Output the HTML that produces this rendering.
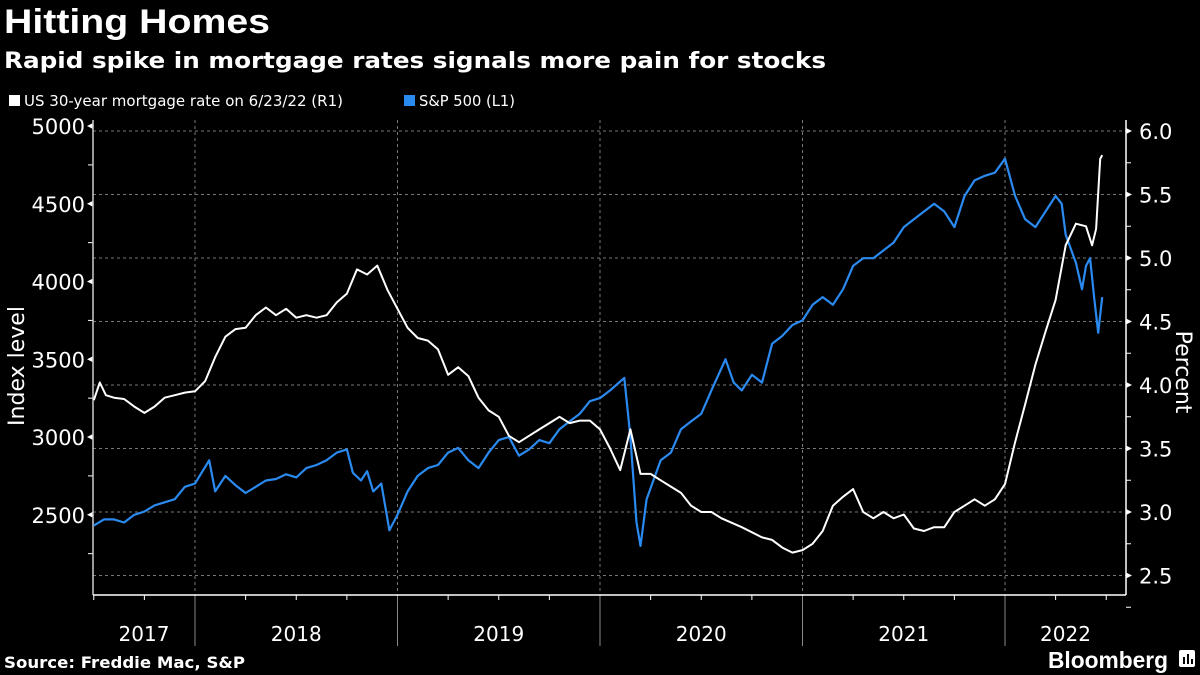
<!DOCTYPE html>
<html><head><meta charset="utf-8">
<style>
body{margin:0;background:#000;}
svg{display:block;font-family:"DejaVu Sans","Liberation Sans",sans-serif;}
</style></head>
<body>
<svg id="chart" width="1200" height="675" viewBox="0 0 1200 675">
<rect x="0" y="0" width="1200" height="675" fill="#000"/>
<text x="4" y="33" fill="#fff" font-size="34" font-weight="bold" font-family="Liberation Sans, sans-serif" textLength="266" lengthAdjust="spacingAndGlyphs">Hitting Homes</text>
<text x="4" y="68" fill="#fff" font-size="22" font-weight="bold" font-family="DejaVu Sans, sans-serif" textLength="822" lengthAdjust="spacingAndGlyphs">Rapid spike in mortgage rates signals more pain for stocks</text>
<rect x="9" y="95" width="11" height="11" fill="#fff"/>
<text x="24" y="106" fill="#fff" font-size="15" textLength="319" lengthAdjust="spacingAndGlyphs">US 30-year mortgage rate on 6/23/22 (R1)</text>
<rect x="404" y="95" width="11" height="11" fill="#2a8af0"/>
<text x="419" y="106" fill="#fff" font-size="15" textLength="96" lengthAdjust="spacingAndGlyphs">S&amp;P 500 (L1)</text>
<g id="grid"></g>
<g id="axes"></g>
<g id="series"></g>
<text transform="translate(24,366) rotate(-90)" text-anchor="middle" fill="#fff" font-size="22">Index level</text>
<text transform="translate(1176,372) rotate(90)" text-anchor="middle" fill="#fff" font-size="22">Percent</text>
<text x="4" y="668" fill="#fff" font-size="16" font-weight="bold" textLength="241" lengthAdjust="spacingAndGlyphs">Source: Freddie Mac, S&amp;P</text>
<text x="1048" y="668" fill="#fff" font-size="23" font-weight="bold" font-family="Liberation Sans, sans-serif" textLength="120" lengthAdjust="spacingAndGlyphs">Bloomberg</text>
<g><rect x="1179" y="650" width="16" height="17" rx="2" fill="#fff"/><rect x="1183" y="657" width="2" height="7" fill="#000"/><rect x="1187" y="654" width="2" height="10" fill="#000"/><rect x="1191" y="659" width="2" height="5" fill="#000"/></g>
</svg>
<script>
const leftTicks=[2500,3000,3500,4000,4500,5000];
const rightTicks=[2.5,3.0,3.5,4.0,4.5,5.0,5.5,6.0];
const years=[2017,2018,2019,2020,2021,2022];
const mortDates=[2017.5,2017.53,2017.56,2017.6,2017.65,2017.7,2017.75,2017.8,2017.85,2017.9,2017.95,2018.0,2018.05,2018.1,2018.15,2018.2,2018.25,2018.3,2018.35,2018.4,2018.45,2018.5,2018.55,2018.6,2018.65,2018.7,2018.75,2018.8,2018.85,2018.9,2018.95,2019.0,2019.05,2019.1,2019.15,2019.2,2019.25,2019.3,2019.35,2019.4,2019.45,2019.5,2019.55,2019.6,2019.65,2019.7,2019.75,2019.8,2019.85,2019.9,2019.95,2020.0,2020.05,2020.1,2020.15,2020.2,2020.25,2020.3,2020.35,2020.4,2020.45,2020.5,2020.55,2020.6,2020.7,2020.8,2020.85,2020.9,2020.95,2021.0,2021.05,2021.1,2021.15,2021.2,2021.25,2021.3,2021.35,2021.4,2021.45,2021.5,2021.55,2021.6,2021.65,2021.7,2021.75,2021.8,2021.85,2021.9,2021.95,2022.0,2022.05,2022.1,2022.15,2022.2,2022.25,2022.3,2022.35,2022.4,2022.43,2022.45,2022.47,2022.48];
const mortValues=[3.88,4.02,3.92,3.9,3.89,3.83,3.78,3.83,3.9,3.92,3.94,3.95,4.03,4.22,4.38,4.44,4.45,4.55,4.61,4.55,4.6,4.53,4.55,4.53,4.55,4.65,4.72,4.91,4.87,4.94,4.75,4.6,4.45,4.37,4.35,4.28,4.08,4.14,4.07,3.9,3.8,3.75,3.6,3.55,3.6,3.65,3.7,3.75,3.7,3.72,3.72,3.65,3.5,3.33,3.65,3.3,3.3,3.25,3.2,3.15,3.05,3.0,3.0,2.95,2.88,2.8,2.78,2.72,2.68,2.7,2.75,2.85,3.05,3.12,3.18,3.0,2.95,3.0,2.95,2.98,2.87,2.85,2.88,2.88,3.0,3.05,3.1,3.05,3.1,3.22,3.55,3.85,4.16,4.42,4.67,5.1,5.27,5.25,5.1,5.23,5.78,5.81];
const spxDates=[2017.5,2017.55,2017.6,2017.65,2017.7,2017.75,2017.8,2017.85,2017.9,2017.95,2018.0,2018.07,2018.1,2018.15,2018.2,2018.25,2018.3,2018.35,2018.4,2018.45,2018.5,2018.55,2018.6,2018.65,2018.7,2018.75,2018.78,2018.82,2018.85,2018.88,2018.92,2018.96,2019.0,2019.05,2019.1,2019.15,2019.2,2019.25,2019.3,2019.35,2019.4,2019.45,2019.5,2019.55,2019.6,2019.65,2019.7,2019.75,2019.8,2019.85,2019.9,2019.95,2020.0,2020.05,2020.12,2020.15,2020.18,2020.2,2020.23,2020.3,2020.35,2020.4,2020.45,2020.5,2020.55,2020.62,2020.66,2020.7,2020.75,2020.8,2020.85,2020.9,2020.95,2021.0,2021.05,2021.1,2021.15,2021.2,2021.25,2021.3,2021.35,2021.4,2021.45,2021.5,2021.55,2021.6,2021.65,2021.7,2021.75,2021.8,2021.85,2021.9,2021.95,2022.0,2022.05,2022.1,2022.15,2022.2,2022.25,2022.28,2022.3,2022.35,2022.38,2022.4,2022.42,2022.44,2022.46,2022.48];
const spxValues=[2430,2470,2470,2450,2500,2520,2560,2580,2600,2680,2700,2850,2650,2750,2690,2640,2680,2720,2730,2760,2740,2800,2820,2850,2900,2920,2770,2720,2780,2650,2700,2400,2500,2650,2750,2800,2820,2900,2930,2850,2800,2900,2980,3000,2880,2920,2980,2960,3050,3100,3150,3230,3250,3300,3380,3000,2450,2300,2600,2850,2900,3050,3100,3150,3300,3500,3350,3300,3400,3350,3600,3650,3720,3750,3850,3900,3850,3950,4100,4150,4150,4200,4250,4350,4400,4450,4500,4450,4350,4550,4650,4680,4700,4790,4550,4400,4350,4450,4550,4500,4300,4120,3950,4100,4150,3900,3670,3900];

const X0=93,X1=1126,Y1=595;
const xs=d=>195+(d-2018)*202.5;
const yl=v=>126+(5000-v)*0.1555;
const yr=v=>131+(6-v)*127;
const NS='http://www.w3.org/2000/svg';
function mk(tag,attrs,parent){const e=document.createElementNS(NS,tag);for(const k in attrs)e.setAttribute(k,attrs[k]);parent.appendChild(e);return e;}
const grid=document.getElementById('grid'),axes=document.getElementById('axes'),series=document.getElementById('series');
rightTicks.forEach(v=>{
  const g=mk('line',{x1:X0,x2:X1,y1:yr(v),y2:yr(v),stroke:'#777','stroke-dasharray':'3,3','stroke-width':1},grid);
  
  
  const t=mk('text',{x:X1+13,y:yr(v)+8,fill:'#fff','font-size':21},axes);t.textContent=v.toFixed(1);
  
  
  mk('path',{d:`M${X1} ${yr(v)-3}L${X1+6} ${yr(v)}L${X1} ${yr(v)+3}Z`,fill:'#fff'},axes);
  mk('line',{x1:X1,x2:X1+5,y1:yr(v)+31.75,y2:yr(v)+31.75,stroke:'#fff'},axes);
});
leftTicks.forEach(v=>{
  const t=mk('text',{x:X0-8,y:yl(v)+8,fill:'#fff','font-size':21,'text-anchor':'end'},axes);t.textContent=v;
  
  
  mk('path',{d:`M${X0} ${yl(v)-3}L${X0-6} ${yl(v)}L${X0} ${yl(v)+3}Z`,fill:'#fff'},axes);
  mk('line',{x1:X0,x2:X0-5,y1:yl(v)+38.9,y2:yl(v)+38.9,stroke:'#fff'},axes);
});
years.forEach(y=>{
  if(y>2017){const l=mk('line',{x1:xs(y),x2:xs(y),y1:120,y2:Y1,stroke:'#777','stroke-dasharray':'3,3'},grid);
    
    
    mk('line',{x1:xs(y),x2:xs(y),y1:Y1,y2:646,stroke:'#888'},axes);}
  for(let q=1;q<4;q++){const xq=xs(y+q/4);if(xq>X0&&xq<X1)mk('line',{x1:xq,x2:xq,y1:Y1,y2:Y1+5,stroke:'#fff'},axes);}
  const a=Math.max(X0,xs(y)),b=Math.min(X1,xs(y+1));
  const t=mk('text',{x:(a+b)/2,y:641,fill:'#fff','font-size':20,'text-anchor':'middle'},axes);t.textContent=y;
  
  
});
mk('line',{x1:X0,x2:X0,y1:120,y2:Y1,stroke:'#ccc','stroke-width':1.5},axes);
mk('line',{x1:X1,x2:X1,y1:120,y2:Y1,stroke:'#fff','stroke-width':1.5},axes);
mk('line',{x1:X0,x2:X1,y1:Y1,y2:Y1,stroke:'#fff','stroke-width':1.5},axes);
const sp=mk('polyline',{points:spxDates.map((d,i)=>xs(d).toFixed(1)+','+yl(spxValues[i]).toFixed(1)).join(' '),fill:'none',stroke:'#2a8af0','stroke-width':2.2,'stroke-linejoin':'round'},series);


const mo=mk('polyline',{points:mortDates.map((d,i)=>xs(d).toFixed(1)+','+yr(mortValues[i]).toFixed(1)).join(' '),fill:'none',stroke:'#fff','stroke-width':2,'stroke-linejoin':'round'},series);


</script>
</body></html>
